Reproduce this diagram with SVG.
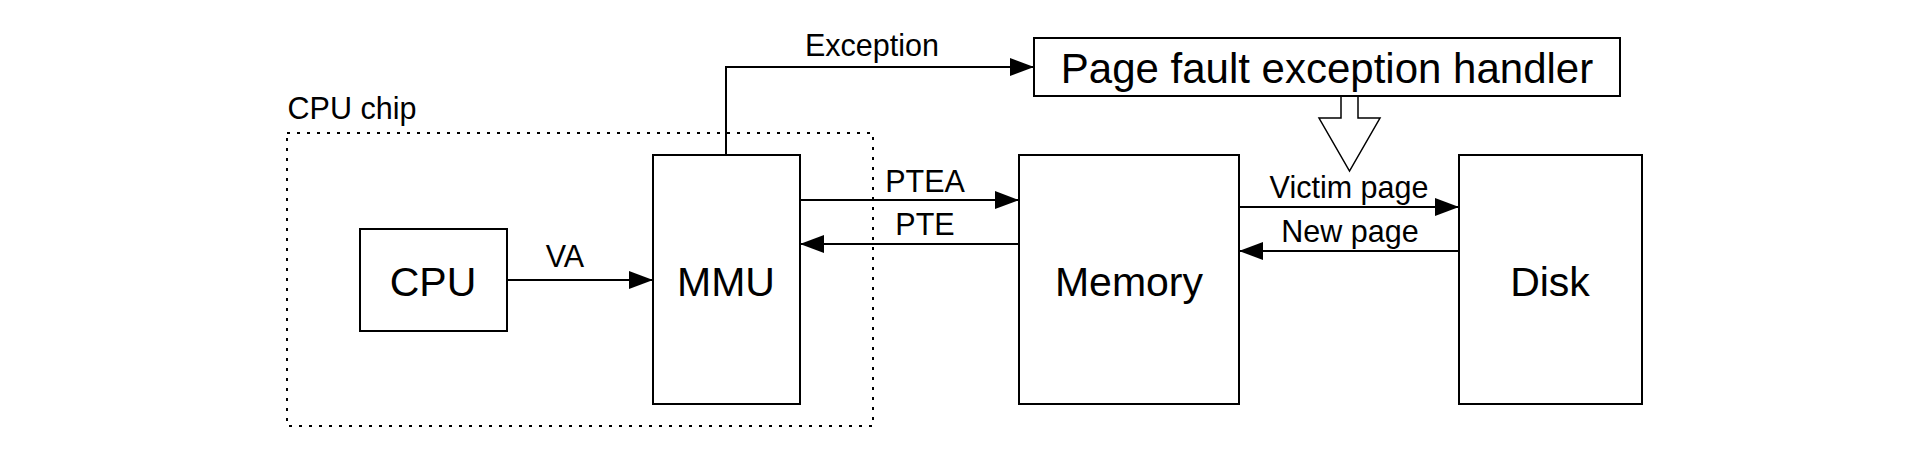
<svg xmlns="http://www.w3.org/2000/svg" width="1914" height="460" viewBox="0 0 1914 460">
<defs>
<style>
.box{fill:#fff;stroke:#000;stroke-width:2}
.ln{fill:none;stroke:#000;stroke-width:2}
.t{font-family:"Liberation Sans",Arial,Helvetica,sans-serif;fill:#000;text-anchor:middle}
.big{font-size:41px}
.lbl{font-size:30.5px}
</style>
<marker id="ah" markerUnits="userSpaceOnUse" markerWidth="24" markerHeight="18" refX="24" refY="9" orient="auto">
<path d="M0,0 L24,9 L0,18 z" fill="#000"/>
</marker>
</defs>
<rect width="1914" height="460" fill="#fff"/>
<g id="cpu-chip">
<rect x="287" y="133" width="586" height="293" fill="none" stroke="#000" stroke-width="2" stroke-dasharray="3 7"/>
<text class="t lbl" x="352" y="119">CPU chip</text>
</g>
<g id="connectors">
<path class="ln" d="M726,155 V67 H1034" marker-end="url(#ah)"/>
<text class="t lbl" x="872" y="56">Exception</text>
<line class="ln" x1="507" y1="280" x2="653" y2="280" marker-end="url(#ah)"/>
<text class="t lbl" x="565" y="267">VA</text>
<line class="ln" x1="800" y1="200" x2="1019" y2="200" marker-end="url(#ah)"/>
<text class="t lbl" x="925" y="192">PTEA</text>
<line class="ln" x1="1019" y1="244" x2="800" y2="244" marker-end="url(#ah)"/>
<text class="t lbl" x="925" y="235">PTE</text>
<line class="ln" x1="1239" y1="207" x2="1459" y2="207" marker-end="url(#ah)"/>
<text class="t lbl" x="1349" y="198">Victim page</text>
<line class="ln" x1="1459" y1="251" x2="1239" y2="251" marker-end="url(#ah)"/>
<text class="t lbl" x="1350" y="242">New page</text>
<polygon points="1341,96 1358,96 1358,118 1380,118 1349.5,171 1319,118 1341,118" fill="#fff" stroke="#000" stroke-width="1.5"/>
</g>
<g id="handler">
<rect class="box" x="1034" y="38" width="586" height="58"/>
<text class="t big" x="1327" y="83" style="font-size:42px">Page fault exception handler</text>
</g>
<g id="cpu">
<rect class="box" x="360" y="229" width="147" height="102"/>
<text class="t big" x="433" y="296">CPU</text>
</g>
<g id="mmu">
<rect class="box" x="653" y="155" width="147" height="249"/>
<text class="t big" x="726" y="296">MMU</text>
</g>
<g id="memory">
<rect class="box" x="1019" y="155" width="220" height="249"/>
<text class="t big" x="1129" y="296">Memory</text>
</g>
<g id="disk">
<rect class="box" x="1459" y="155" width="183" height="249"/>
<text class="t big" x="1550" y="296">Disk</text>
</g>
</svg>
